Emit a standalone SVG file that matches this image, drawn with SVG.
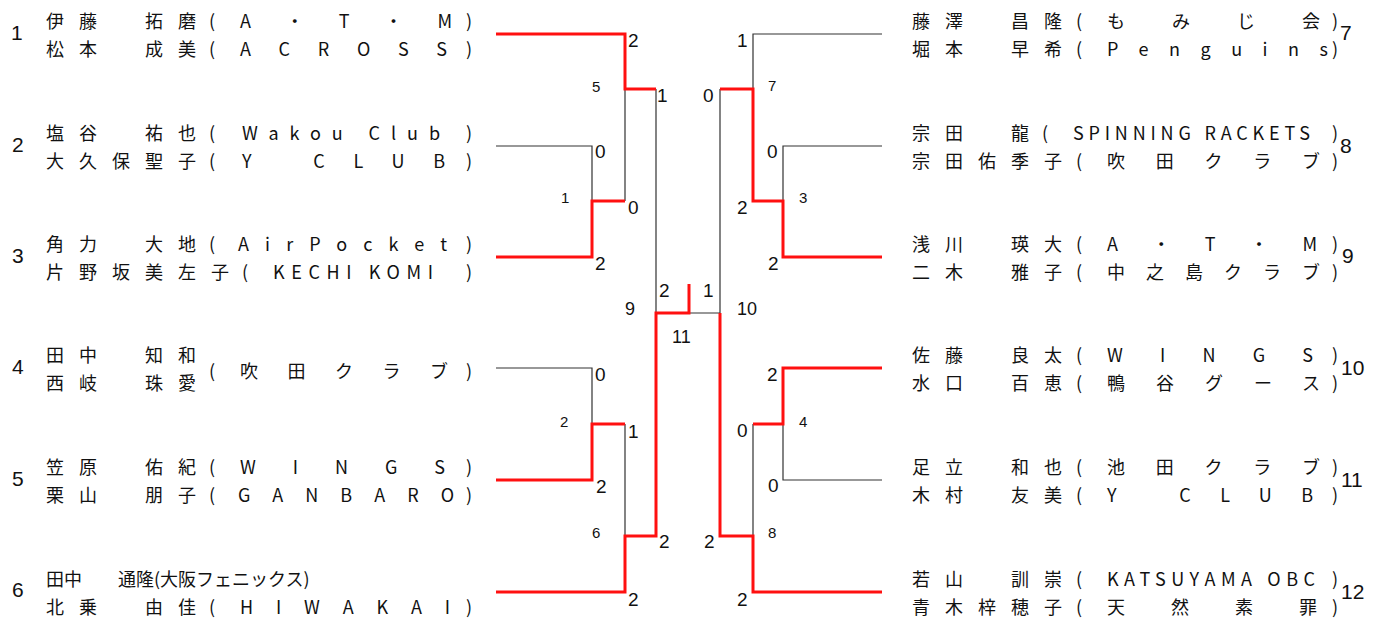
<svg xmlns="http://www.w3.org/2000/svg" width="1391" height="618" viewBox="0 0 1391 618">
<style>
.t{font-family:"Noto Sans CJK JP","Noto Sans CJK SC",sans-serif;font-size:18px;fill:#111}
.nm{letter-spacing:15px}
.p{text-anchor:middle}
.num{font-family:"Liberation Sans",Arial,sans-serif;font-size:21px;fill:#111}
.sc{font-family:"Liberation Sans",Arial,sans-serif;font-size:19px;fill:#111}
.mn{font-family:"Liberation Sans",Arial,sans-serif;font-size:15px;fill:#111}
.mf{font-family:"Liberation Sans",Arial,sans-serif;font-size:18px;fill:#111}
.bk{fill:none;stroke:#333;stroke-width:1.2}
.rd{fill:none;stroke:#ff1010;stroke-width:3;stroke-linejoin:miter}
</style>
<rect width="1391" height="618" fill="#fff"/>

<g id="connectors">
<path class="bk" d="M496 146H592V201M625 89V201M656 89V313M496 368H592V424M625 424V536M882 34H753V89M882 146H783V201M720 89V313M689 313H720M882 480H783V424M753 424V536"/>
<path class="rd" d="M496 34H625V89H656M496 257H592V201H625M496 480H592V424H625M496 592H625V536H656V313H689V284M882 257H783V201H753V89H720M882 368H783V424H753M882 592H753V536H720V313"/>
</g>

<g id="scores">
<text class="sc" x="628" y="47">2</text>
<text class="sc" x="657" y="102">1</text>
<text class="sc" x="595" y="158">0</text>
<text class="sc" x="628" y="214">0</text>
<text class="sc" x="595" y="270">2</text>
<text class="sc" x="659" y="297">2</text>
<text class="sc" x="703" y="297">1</text>
<text class="sc" x="595" y="381">0</text>
<text class="sc" x="628" y="438">1</text>
<text class="sc" x="596" y="493">2</text>
<text class="sc" x="659" y="548">2</text>
<text class="sc" x="628" y="606">2</text>
<text class="sc" x="737" y="47">1</text>
<text class="sc" x="703" y="102">0</text>
<text class="sc" x="767" y="158">0</text>
<text class="sc" x="737" y="214">2</text>
<text class="sc" x="768" y="270">2</text>
<text class="sc" x="767" y="381">2</text>
<text class="sc" x="737" y="437">0</text>
<text class="sc" x="768" y="492">0</text>
<text class="sc" x="704" y="548">2</text>
<text class="sc" x="737" y="606">2</text>
</g>

<g id="match-numbers">
<text class="mn" x="592" y="92">5</text>
<text class="mn" x="561" y="203">1</text>
<text class="mn" x="560" y="427">2</text>
<text class="mn" x="592" y="538">6</text>
<text class="mn" x="768" y="91">7</text>
<text class="mn" x="799" y="203">3</text>
<text class="mn" x="799" y="427">4</text>
<text class="mn" x="768" y="538">8</text>
<text class="mf" x="625" y="315">9</text>
<text class="mf" x="737" y="315">10</text>
<text class="mf" x="672" y="343">11</text>
</g>

<g id="entry-1">
<text class="num" x="11" y="40">1</text>
<text class="t nm" x="46" y="28">伊藤　拓磨</text>
<text class="t p" x="212" y="28">(</text>
<text class="t" x="240" y="28" textLength="212" lengthAdjust="spacing">A・T・M</text>
<text class="t p" x="469" y="28">)</text>
<text class="t nm" x="46" y="56">松本　成美</text>
<text class="t p" x="212" y="56">(</text>
<text class="t" x="240" y="56" textLength="207" lengthAdjust="spacing">ACROSS</text>
<text class="t p" x="469" y="56">)</text>
</g>

<g id="entry-2">
<text class="num" x="12" y="152">2</text>
<text class="t nm" x="46" y="140">塩谷　祐也</text>
<text class="t p" x="212" y="140">(</text>
<text class="t" x="242" y="140" textLength="198" lengthAdjust="spacing">Wakou Club</text>
<text class="t p" x="469" y="140">)</text>
<text class="t nm" x="46" y="168">大久保聖子</text>
<text class="t p" x="212" y="168">(</text>
<text class="t" x="242" y="168" textLength="203" lengthAdjust="spacing">Y CLUB</text>
<text class="t p" x="469" y="168">)</text>
</g>

<g id="entry-3">
<text class="num" x="12" y="263">3</text>
<text class="t nm" x="46" y="251">角力　大地</text>
<text class="t p" x="212" y="251">(</text>
<text class="t" x="238" y="251" textLength="209" lengthAdjust="spacing">AirPocket</text>
<text class="t p" x="469" y="251">)</text>
<text class="t nm" x="46" y="279">片野坂美左子</text>
<text class="t p" x="245" y="279">(</text>
<text class="t" x="273" y="279" textLength="160" lengthAdjust="spacing">KECHI KOMI</text>
<text class="t p" x="469" y="279">)</text>
</g>

<g id="entry-4">
<text class="num" x="12" y="374">4</text>
<text class="t nm" x="46" y="362">田中　知和</text>
<text class="t nm" x="46" y="390">西岐　珠愛</text>
<text class="t p" x="212" y="378">(</text>
<text class="t" x="240" y="378" textLength="208" lengthAdjust="spacing">吹田クラブ</text>
<text class="t p" x="469" y="378">)</text>
</g>

<g id="entry-5">
<text class="num" x="12" y="486">5</text>
<text class="t nm" x="46" y="474">笠原　佑紀</text>
<text class="t p" x="212" y="474">(</text>
<text class="t" x="240" y="474" textLength="205" lengthAdjust="spacing">WINGS</text>
<text class="t p" x="469" y="474">)</text>
<text class="t nm" x="46" y="502">栗山　朋子</text>
<text class="t p" x="212" y="502">(</text>
<text class="t" x="238" y="502" textLength="216" lengthAdjust="spacing">GANBARO</text>
<text class="t p" x="469" y="502">)</text>
</g>

<g id="entry-6">
<text class="num" x="12" y="597">6</text>
<text class="t" x="46" y="586">田中　　通隆(大阪フェニックス)</text>
<text class="t nm" x="46" y="614">北乗　由佳</text>
<text class="t p" x="212" y="614">(</text>
<text class="t" x="240" y="614" textLength="210" lengthAdjust="spacing">HIWAKAI</text>
<text class="t p" x="469" y="614">)</text>
</g>

<g id="entry-7">
<text class="t nm" x="912" y="28">藤澤　昌隆</text>
<text class="t p" x="1079" y="28">(</text>
<text class="t" x="1107" y="28" textLength="213" lengthAdjust="spacing">もみじ会</text>
<text class="t p" x="1335" y="28">)</text>
<text class="t nm" x="912" y="56">堀本　早希</text>
<text class="t p" x="1079" y="56">(</text>
<text class="t" x="1107" y="56" textLength="221" lengthAdjust="spacing">Penguins</text>
<text class="t p" x="1335" y="56">)</text>
<text class="num" x="1340" y="40">7</text>
</g>

<g id="entry-8">
<text class="t nm" x="912" y="140">宗田　龍</text>
<text class="t p" x="1045" y="140">(</text>
<text class="t" x="1073" y="140" textLength="237" lengthAdjust="spacing">SPINNING RACKETS</text>
<text class="t p" x="1335" y="140">)</text>
<text class="t nm" x="912" y="168">宗田佑季子</text>
<text class="t p" x="1079" y="168">(</text>
<text class="t" x="1107" y="168" textLength="213" lengthAdjust="spacing">吹田クラブ</text>
<text class="t p" x="1335" y="168">)</text>
<text class="num" x="1340" y="153">8</text>
</g>

<g id="entry-9">
<text class="t nm" x="912" y="251">浅川　瑛大</text>
<text class="t p" x="1079" y="251">(</text>
<text class="t" x="1107" y="251" textLength="210" lengthAdjust="spacing">A・T・M</text>
<text class="t p" x="1335" y="251">)</text>
<text class="t nm" x="912" y="279">二木　雅子</text>
<text class="t p" x="1079" y="279">(</text>
<text class="t" x="1107" y="279" textLength="213" lengthAdjust="spacing">中之島クラブ</text>
<text class="t p" x="1335" y="279">)</text>
<text class="num" x="1342" y="263">9</text>
</g>

<g id="entry-10">
<text class="t nm" x="912" y="362">佐藤　良太</text>
<text class="t p" x="1079" y="362">(</text>
<text class="t" x="1107" y="362" textLength="206" lengthAdjust="spacing">WINGS</text>
<text class="t p" x="1335" y="362">)</text>
<text class="t nm" x="912" y="390">水口　百恵</text>
<text class="t p" x="1079" y="390">(</text>
<text class="t" x="1107" y="390" textLength="213" lengthAdjust="spacing">鴨谷グース</text>
<text class="t p" x="1335" y="390">)</text>
<text class="num" x="1341" y="375">10</text>
</g>

<g id="entry-11">
<text class="t nm" x="912" y="474">足立　和也</text>
<text class="t p" x="1079" y="474">(</text>
<text class="t" x="1107" y="474" textLength="213" lengthAdjust="spacing">池田クラブ</text>
<text class="t p" x="1335" y="474">)</text>
<text class="t nm" x="912" y="502">木村　友美</text>
<text class="t p" x="1079" y="502">(</text>
<text class="t" x="1107" y="502" textLength="206" lengthAdjust="spacing">Y CLUB</text>
<text class="t p" x="1335" y="502">)</text>
<text class="num" x="1341" y="487">11</text>
</g>

<g id="entry-12">
<text class="t nm" x="912" y="586">若山　訓崇</text>
<text class="t p" x="1079" y="586">(</text>
<text class="t" x="1107" y="586" textLength="208" lengthAdjust="spacing">KATSUYAMA OBC</text>
<text class="t p" x="1335" y="586">)</text>
<text class="t nm" x="912" y="614">青木梓穂子</text>
<text class="t p" x="1079" y="614">(</text>
<text class="t" x="1107" y="614" textLength="210" lengthAdjust="spacing">天然素罪</text>
<text class="t p" x="1335" y="614">)</text>
<text class="num" x="1341" y="599">12</text>
</g>
</svg>
